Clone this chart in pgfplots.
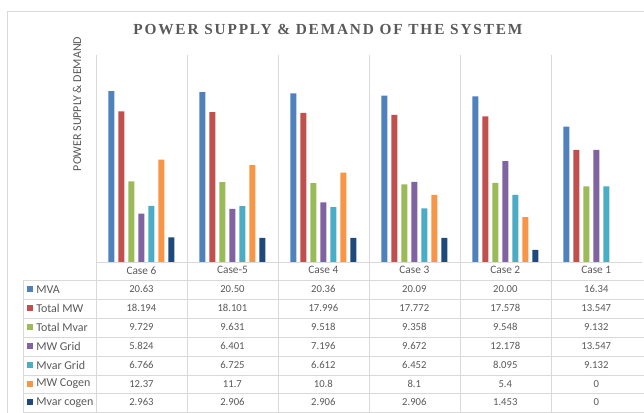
\documentclass[border=0pt]{standalone}
\usepackage{fontspec}
\setmainfont{Carlito}
\newfontfamily\titlefont[LetterSpace=12]{Liberation Serif}
\usepackage{pgfplots}
\pgfplotsset{compat=1.18}

\definecolor{cMVA}{HTML}{4F81BD}
\definecolor{cTMW}{HTML}{C0504D}
\definecolor{cTMV}{HTML}{9BBB59}
\definecolor{cMWG}{HTML}{8064A2}
\definecolor{cMVG}{HTML}{4BACC6}
\definecolor{cMWC}{HTML}{F79646}
\definecolor{cMVC}{HTML}{1F497D}
\definecolor{gridc}{HTML}{D9D9D9}
\definecolor{txt}{HTML}{595959}

\begin{document}
\begin{tikzpicture}
\begin{scope}[x=0.75pt,y=-0.75pt]
\path[use as bounding box] (0,0) rectangle (644,413);
\draw[gridc] (7,413) -- (7,11) -- (644,11);
\end{scope}

\begin{axis}[at={(72pt,-196.5pt)}, anchor=south west, scale only axis,
  width=409.5pt, height=155.25pt,
  xmin=-0.5, xmax=5.5, ymin=0, ymax=25,
  ybar=3pt, bar width=4.5pt,
  axis y line=none, axis x line*=bottom,
  x axis line style={draw=gridc,-},
  xtick={0,...,5},
  xticklabels={Case 6,Case-5,Case 4,Case 3,Case 2,Case 1},
  major tick length=0pt,
  minor xtick={-0.5,0.5,...,4.5}, minor tick length=0pt,
  xminorgrids, minor grid style={gridc},
  xticklabel style={font=\fontsize{8.5}{10}\selectfont, text=txt},
  clip=false]
\addplot[fill=cMVA, draw=none] coordinates {(0,20.63)(1,20.50)(2,20.36)(3,20.09)(4,20.00)(5,16.34)};
\addplot[fill=cTMW, draw=none] coordinates {(0,18.194)(1,18.101)(2,17.996)(3,17.772)(4,17.578)(5,13.547)};
\addplot[fill=cTMV, draw=none] coordinates {(0,9.729)(1,9.631)(2,9.518)(3,9.358)(4,9.548)(5,9.132)};
\addplot[fill=cMWG, draw=none] coordinates {(0,5.824)(1,6.401)(2,7.196)(3,9.672)(4,12.178)(5,13.547)};
\addplot[fill=cMVG, draw=none] coordinates {(0,6.766)(1,6.725)(2,6.612)(3,6.452)(4,8.095)(5,9.132)};
% Case 1 has 0 for the cogen series: no bar drawn
\addplot[fill=cMWC, draw=none] coordinates {(0,12.37)(1,11.7)(2,10.8)(3,8.1)(4,5.4)};
\addplot[fill=cMVC, draw=none] coordinates {(0,2.963)(1,2.906)(2,2.906)(3,2.906)(4,1.453)};
\end{axis}

\begin{scope}[x=0.75pt,y=-0.75pt]
% title and axis label
\node[text=txt, font=\titlefont\bfseries\fontsize{11.5}{13}\selectfont] at (328,30) {POWER SUPPLY \& DEMAND OF THE SYSTEM};
\node[text=txt, rotate=90, font=\fontsize{9}{10}\selectfont] at (77,104) {POWER SUPPLY \& DEMAND};
% data table grid
\foreach \yy in {280,299,318,337,356,375,393,412} \draw[gridc] (23,\yy) -- (644,\yy);
\draw[gridc] (23,280) -- (23,412);
\foreach \xx in {96,187,278,369,460,551} \draw[gridc] (\xx,262) -- (\xx,412);
% rows
\foreach \lab/\col/\yy/\vals in {
  MVA/cMVA/289.5/{20.63,20.50,20.36,20.09,20.00,16.34},
  Total MW/cTMW/308.5/{18.194,18.101,17.996,17.772,17.578,13.547},
  Total Mvar/cTMV/327.5/{9.729,9.631,9.518,9.358,9.548,9.132},
  MW Grid/cMWG/346.5/{5.824,6.401,7.196,9.672,12.178,13.547},
  Mvar Grid/cMVG/365.5/{6.766,6.725,6.612,6.452,8.095,9.132},
  MW Cogen/cMWC/384/{12.37,11.7,10.8,8.1,5.4,0},
  Mvar cogen/cMVC/402.5/{2.963,2.906,2.906,2.906,1.453,0}}{
  \fill[\col] (27,\yy-3) rectangle (33,\yy+3);
  \node[anchor=west, text=txt, inner sep=0pt, font=\fontsize{9}{10}\selectfont] at (36,\yy) {\lab};
  \foreach \v [count=\i from 0] in \vals
    \node[text=txt, inner sep=0pt, font=\fontsize{8}{9}\selectfont] at ({141.5+91*\i},\yy) {\v};
}
\end{scope}
\end{tikzpicture}
\end{document}
